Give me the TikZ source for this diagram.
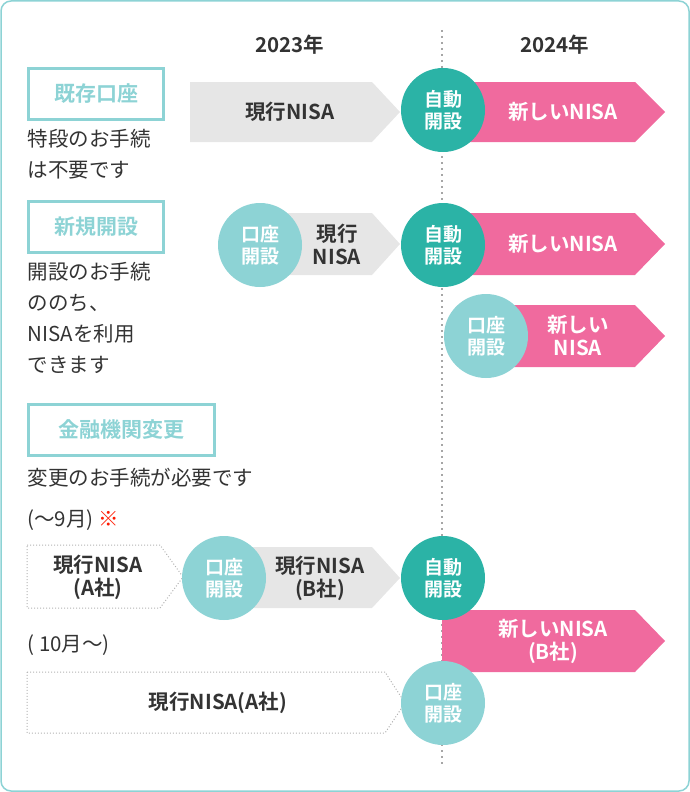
\documentclass[tikz,border=0pt]{standalone}
\usepackage{fontspec}
\setmainfont{Noto Sans CJK JP}[BoldFont={* Bold}]
\definecolor{lt}{HTML}{8DD3D5}
\definecolor{dk}{HTML}{2BB3A6}
\definecolor{pk}{HTML}{F06A9E}
\definecolor{gr}{HTML}{E6E6E6}
\definecolor{tx}{HTML}{333333}
\begin{document}
\begin{tikzpicture}[x=1pt,y=-1pt,
  circ/.style={circle,minimum size=84pt,inner sep=0pt,text=white,font=\bfseries\fontsize{19}{22}\selectfont,align=center},
  lab/.style={draw=lt,line width=3pt,text=lt,font=\bfseries\fontsize{21}{24}\selectfont,anchor=north west,inner sep=0pt,minimum height=51pt},
  btx/.style={font=\bfseries\fontsize{20.5}{23}\selectfont,align=center,text=tx},
  wtx/.style={font=\bfseries\fontsize{20.5}{23}\selectfont,align=center,text=white},
  ptx/.style={font=\fontsize{20.5}{31}\selectfont,text=tx,anchor=west,align=left}]
\useasboundingbox (0,0) rectangle (690,792);
\draw[lt,line width=1.5pt,rounded corners=10pt] (1,1) rectangle (689,791);
\node[btx] (h1) at (290,45) {2023年};
\node[btx] (h2) at (555,45) {2024年};
\draw[gray!70,line width=2pt,dash pattern=on 2pt off 4pt] (442,30) -- (442,765);
% labels
\node[lab,minimum width=135pt] (l1) at (27,67) {既存口座};
\node[lab,minimum width=135pt] (l2) at (27,200) {新規開設};
\node[lab,minimum width=186pt] (l3) at (27,403) {金融機関変更};
\node[ptx,anchor=north west] (t1) at (24,126) {特段のお手続\\は不要です};
\node[ptx,anchor=north west] (t2) at (24,259) {開設のお手続\\ののち、\\NISAを利用\\できます};
\node[ptx] (t3) at (24,478) {変更のお手続が必要です};
\node[ptx] (t4) at (24,520) {(〜9月) \textcolor{red!80!orange}{※}};
\node[ptx] (t5) at (24,645) {( 10月〜)};
% row1
\fill[gr] (190,82) -- (372,82) -- (400,112) -- (372,142) -- (190,142) -- cycle;
\node[btx] (a1) at (290,112) {現行NISA};
\fill[pk] (465,82) -- (635,82) -- (665,112) -- (635,142) -- (465,142) -- cycle;
\node[wtx] (p1) at (563,112) {新しいNISA};
\node[circ,fill=dk] (c1) at (443,110) {自動\\開設};
% row2
\fill[gr] (280,213) -- (372,213) -- (400,244) -- (372,275) -- (280,275) -- cycle;
\node[circ,fill=lt] (c2) at (260,245) {口座\\開設};
\node[btx] (a2) at (337,244) {現行\\NISA};
\fill[pk] (465,213) -- (635,213) -- (665,244) -- (635,275) -- (465,275) -- cycle;
\node[wtx] (p2) at (563,244) {新しいNISA};
\node[circ,fill=dk] (c3) at (443,245) {自動\\開設};
% row3
\fill[pk] (500,305) -- (635,305) -- (665,336) -- (635,367) -- (500,367) -- cycle;
\node[wtx] (p3) at (578,336) {新しい\\NISA};
\node[circ,fill=lt] (c4) at (486,336) {口座\\開設};
% row4
\draw[gray!60,line width=1pt,dotted] (27,545) -- (160,545) -- (183,577) -- (160,608) -- (27,608) -- cycle;
\node[btx] (a3) at (98,577) {現行NISA\\(A社)};
\fill[gr] (245,547) -- (372,547) -- (400,578) -- (372,608) -- (245,608) -- cycle;
\node[btx] (a4) at (320,578) {現行NISA\\(B社)};
\node[circ,fill=lt] (c5) at (224,578) {口座\\開設};
\fill[pk] (442,610) -- (635,610) -- (665,641) -- (635,672) -- (442,672) -- cycle;
\node[wtx] (p4) at (553,641) {新しいNISA\\(B社)};
\node[circ,fill=dk] (c6) at (443,578) {自動\\開設};
% row5
\draw[gray!60,line width=1pt,dotted] (27,672) -- (385,672) -- (405,703) -- (385,733) -- (27,733) -- cycle;
\node[btx] (a5) at (218,703) {現行NISA(A社)};
\node[circ,fill=lt] (c7) at (443,703) {口座\\開設};
\end{tikzpicture}
\end{document}
